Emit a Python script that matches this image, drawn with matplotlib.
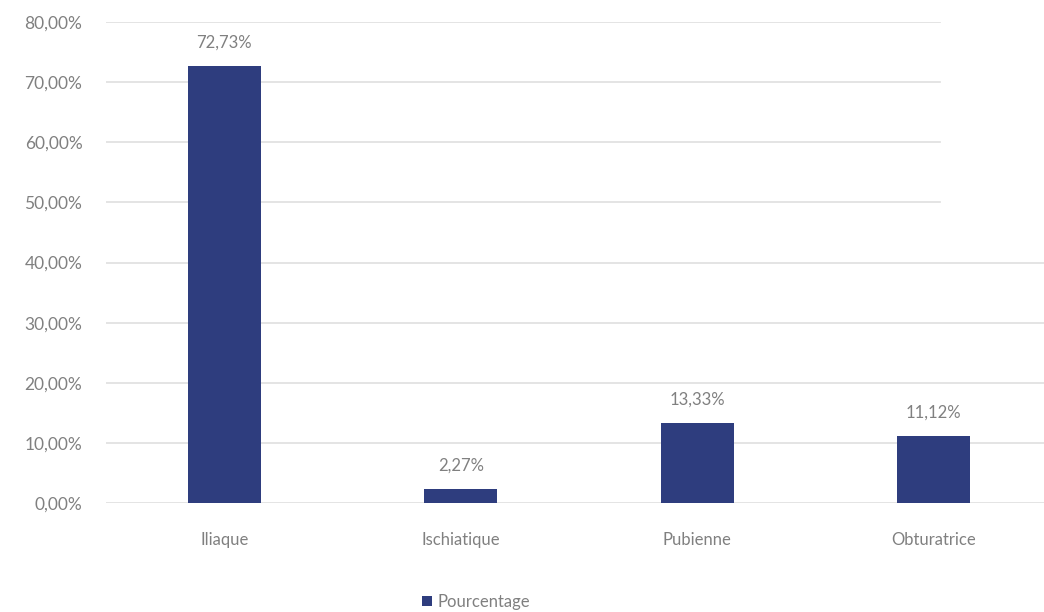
import numpy as np
import matplotlib.pyplot as plt
from matplotlib.ticker import FuncFormatter

categories = ["Iliaque", "Ischiatique", "Pubienne", "Obturatrice"]
pourcentage = [72.73, 2.27, 13.33, 11.12]
y_ticks = [0, 10, 20, 30, 40, 50, 60, 70, 80]

bar_color = "#2e3d7e"
text_color = "#808080"
grid_color = "#e2e2e2"


def fr_percent(v, pos=None):
    return f"{v:.2f}%".replace(".", ",")


def main():
    plt.rcParams["font.family"] = ["Lato", "DejaVu Sans"]
    fig = plt.figure(figsize=(10.44, 6.12), dpi=100)
    # the chart area runs a little past the right edge of the figure
    ax = fig.add_axes([106 / 1044, 1 - 503 / 612, 946 / 1044, 481 / 612])

    x = np.arange(len(categories))
    bars = ax.bar(x, pourcentage, width=0.31, color=bar_color,
                  label="Pourcentage", zorder=3)

    ax.set_xlim(-0.5, len(categories) - 0.5)
    ax.set_ylim(0, 80)
    ax.set_yticks(y_ticks)
    ax.yaxis.set_major_formatter(FuncFormatter(fr_percent))
    ax.set_xticks(x)
    ax.set_xticklabels(categories)

    # horizontal gridlines; the upper ones stop short on the right
    for t in y_ticks:
        xmax = 0.882 if t >= 50 else 1.0
        ax.axhline(t, xmin=0, xmax=xmax, color=grid_color, lw=1.3, zorder=1)

    for s in ax.spines.values():
        s.set_visible(False)
    ax.tick_params(axis="both", length=0, colors=text_color, labelsize=12)
    ax.tick_params(axis="y", labelsize=12.5, pad=17)
    ax.tick_params(axis="x", pad=21)

    for rect, v in zip(bars, pourcentage):
        ax.annotate(fr_percent(v), (rect.get_x() + rect.get_width() / 2, v),
                    xytext=(0, 11), textcoords="offset points",
                    ha="center", va="bottom", fontsize=12, color=text_color)

    fig.legend(handles=[bars], labels=["Pourcentage"], loc="center",
               bbox_to_anchor=(476 / 1044, 1 - 602 / 612), frameon=False,
               fontsize=12, labelcolor=text_color, handlelength=0.6,
               handleheight=0.6, handletextpad=0.3)

    fig.savefig("out.png", dpi=100)


if __name__ == "__main__":
    main()
